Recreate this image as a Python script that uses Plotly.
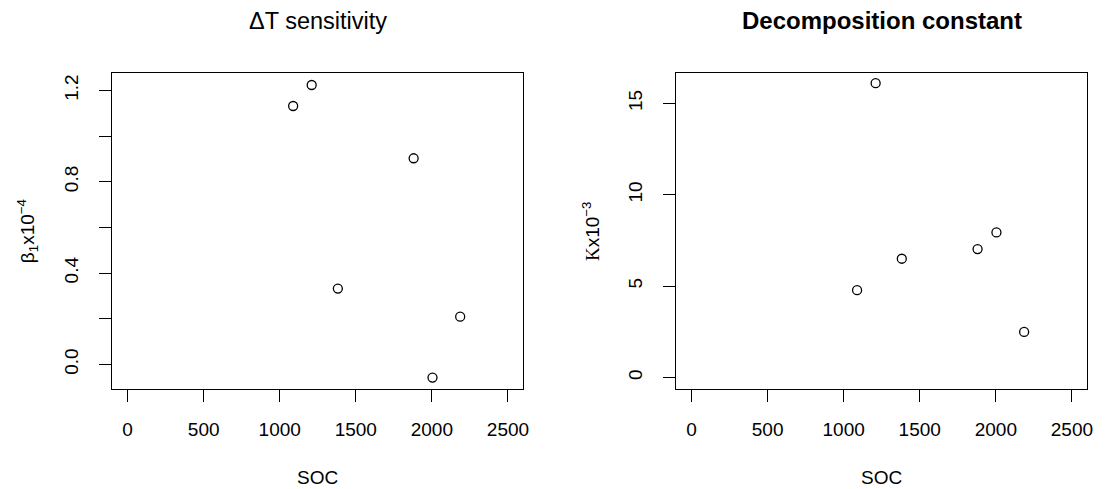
import plotly.graph_objects as go

# ---- data ----
soc = [1088, 1210, 1382, 1880, 2004, 2186]
beta1 = [1.132, 1.224, 0.332, 0.903, -0.058, 0.209]      # beta_1 x 1e-4
kconst = [4.78, 16.10, 6.50, 7.03, 7.94, 2.50]           # K x 1e-3

x_ticks = [0, 500, 1000, 1500, 2000, 2500]
x_lim = [0, 2500]
beta_ticks = [0.0, 0.4, 0.8, 1.2]
beta_ticktext = ["0.0", "0.4", "0.8", "1.2"]
beta_minor_ticks = [0.2, 0.6, 1.0]
k_ticks = [0, 5, 10, 15]
k_lim = [0, 16]

titles = ["\u0394T sensitivity", "<b>Decomposition constant</b>"]
xlabel = "SOC"
ylabels = ["\u03b2<sub>1</sub>x10<sup>\u22124</sup>",
           "<span style=\"font-family:'Liberation Serif'\">K</span>x10<sup>\u22123</sup>"]

FONT = "Liberation Sans, Arial, Helvetica, sans-serif"
TICK = 19
TITLE_SIZES = [23.5, 24]


def rlim(lo, hi):
    pad = (hi - lo) * 0.04
    return [lo - pad, hi + pad]


W, H = 1114, 489
fig = go.Figure()

marker = dict(symbol="circle-open", size=9, color="black",
              line=dict(width=1.3, color="black"))
fig.add_trace(go.Scatter(x=soc, y=beta1, mode="markers", xaxis="x", yaxis="y",
                         marker=marker, hoverinfo="skip", showlegend=False))
fig.add_trace(go.Scatter(x=soc, y=kconst, mode="markers", xaxis="x2", yaxis="y2",
                         marker=marker, hoverinfo="skip", showlegend=False))

ydom = [1 - 389.3 / H, 1 - 73.3 / H]
xdom1 = [113 / W, 526 / W]
xdom2 = [680 / W, 1093 / W]

axis_common = dict(showgrid=False, zeroline=False, showline=True, linecolor="black",
                   linewidth=1, mirror=True, ticks="outside", ticklen=12, tickwidth=1,
                   tickcolor="black", tickfont=dict(family=FONT, size=TICK, color="black"))

fig.update_layout(
    width=W, height=H, autosize=False,
    margin=dict(l=0, r=0, t=0, b=0),
    paper_bgcolor="white", plot_bgcolor="white",
    font=dict(family=FONT, color="black"),
    xaxis=dict(domain=xdom1, anchor="y", range=rlim(*x_lim), tickvals=x_ticks,
               ticktext=[str(v) for v in x_ticks], ticklabelstandoff=11, **axis_common),
    yaxis=dict(domain=ydom, anchor="x", range=rlim(min(beta1), max(beta1)),
               tickvals=beta_ticks, ticktext=beta_ticktext, tickangle=-90,
               ticklabelstandoff=14,
               minor=dict(tickvals=beta_minor_ticks, ticks="outside", ticklen=12,
                          tickwidth=1, tickcolor="black", showgrid=False),
               **axis_common),
    xaxis2=dict(domain=xdom2, anchor="y2", range=rlim(*x_lim), tickvals=x_ticks,
                ticktext=[str(v) for v in x_ticks], ticklabelstandoff=11, **axis_common),
    yaxis2=dict(domain=ydom, anchor="x2", range=rlim(*k_lim), tickvals=k_ticks,
                ticktext=[str(v) for v in k_ticks], tickangle=-90,
                ticklabelstandoff=14, **axis_common),
)

cx = [(xdom1[0] + xdom1[1]) / 2, (xdom2[0] + xdom2[1]) / 2]
ylab_x = [27 / W, 595 / W]
for i in range(2):
    fig.add_annotation(text=titles[i], xref="paper", yref="paper", x=cx[i], y=1 - 21 / H,
                       xanchor="center", yanchor="middle", showarrow=False,
                       font=dict(family=FONT, size=TITLE_SIZES[i], color="black"))
    fig.add_annotation(text=xlabel, xref="paper", yref="paper", x=cx[i], y=1 - 477 / H,
                       xanchor="center", yanchor="middle", showarrow=False,
                       font=dict(family=FONT, size=TICK, color="black"))
    fig.add_annotation(text=ylabels[i], xref="paper", yref="paper", x=ylab_x[i],
                       y=(ydom[0] + ydom[1]) / 2, xanchor="center", yanchor="middle",
                       textangle=-90, showarrow=False,
                       font=dict(family=FONT, size=TICK, color="black"))

fig.write_html("out.html", config={"displayModeBar": False, "staticPlot": True},
               post_script="document.body.style.margin='0';"
                           "document.body.style.overflow='hidden';")
